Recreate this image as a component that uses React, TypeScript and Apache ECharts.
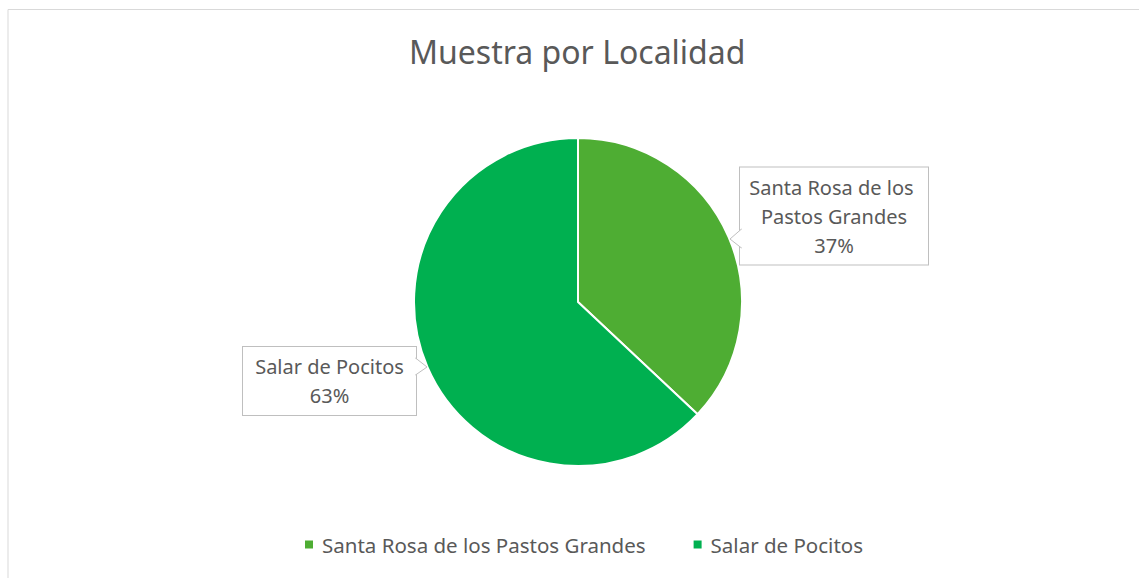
import React, { useEffect, useRef } from "react";
import * as echarts from "echarts";

const categories = ["Santa Rosa de los Pastos Grandes", "Salar de Pocitos"];
const values = [37, 63];
const colors = ["#4EAD33", "#00B050"];
const titleText = "Muestra por Localidad";

const FONT = "'Noto Sans', sans-serif";

export default function App() {
  const ref = useRef<HTMLDivElement>(null);
  useEffect(() => {
    if (!ref.current) return;
    const chart = echarts.init(ref.current, null, { renderer: "svg" });
    const labelWidths = [172, 157];
    const data = categories.map((name, i) => ({
      name,
      value: values[i],
      itemStyle: { color: colors[i] },
      label: { width: labelWidths[i] },
    }));
    const labelPos = [
      { x: 834, y: 216 },
      { x: 329.5, y: 381 },
    ];
    chart.setOption({
      animation: false,
      backgroundColor: "#ffffff",
      title: {
        text: titleText,
        left: 404,
        top: 30,
        textStyle: { fontFamily: FONT, fontSize: 32, fontWeight: "normal", color: "#595959" },
      },
      legend: {
        bottom: 18,
        left: 298,
        icon: "rect",
        itemWidth: 10,
        itemHeight: 10,
        itemGap: 46,
        textStyle: { fontFamily: FONT, fontSize: 20.5, color: "#595959", padding: [0, 0, 0, 3] },
        data: categories,
      },
      series: [
        {
          type: "pie",
          center: [578, 302],
          radius: [0, 164],
          startAngle: 90,
          clockwise: true,
          data,
          itemStyle: { borderColor: "#ffffff", borderWidth: 2 },
          label: {
            show: true,
            position: "outside",
            formatter: (p: any) => `${p.name}\n${Math.round(p.percent)}%`,
            fontFamily: FONT,
            fontSize: 20,
            lineHeight: 29,
            color: "#595959",
            align: "center",
            overflow: "break",
            backgroundColor: "#ffffff",
            borderColor: "#BFBFBF",
            borderWidth: 1,
            padding: [6, 8, 4, 8],
          },
          labelLine: { show: false },
          labelLayout: (p: any) => ({
            x: labelPos[p.dataIndex].x,
            y: labelPos[p.dataIndex].y,
            align: "center",
            verticalAlign: "middle",
          }),
        },
      ],
      graphic: [
        {
          type: "polyline",
          shape: { points: [[8, 590], [8, 9.5], [1150, 9.5]] },
          style: { stroke: "#D9D9D9", lineWidth: 1, fill: "none" },
          silent: true,
        },
        {
          type: "polygon",
          shape: { points: [[741.5, 229], [730, 239], [741.5, 248]] },
          style: { fill: "#ffffff", stroke: "#BFBFBF", lineWidth: 1 },
          z: 100,
          silent: true,
        },
        {
          type: "rect",
          shape: { x: 741, y: 229.5, width: 2, height: 18 },
          style: { fill: "#ffffff" },
          z: 101,
          silent: true,
        },
        {
          type: "polygon",
          shape: { points: [[415.5, 358], [427, 367], [415.5, 375]] },
          style: { fill: "#ffffff", stroke: "#BFBFBF", lineWidth: 1 },
          z: 100,
          silent: true,
        },
        {
          type: "rect",
          shape: { x: 414, y: 358.5, width: 2, height: 16 },
          style: { fill: "#ffffff" },
          z: 101,
          silent: true,
        },
      ],
    });
    return () => chart.dispose();
  }, []);
  return (
    <div
      ref={ref}
      style={{ position: "fixed", left: 0, top: 0, width: 1139, height: 578 }}
    />
  );
}
